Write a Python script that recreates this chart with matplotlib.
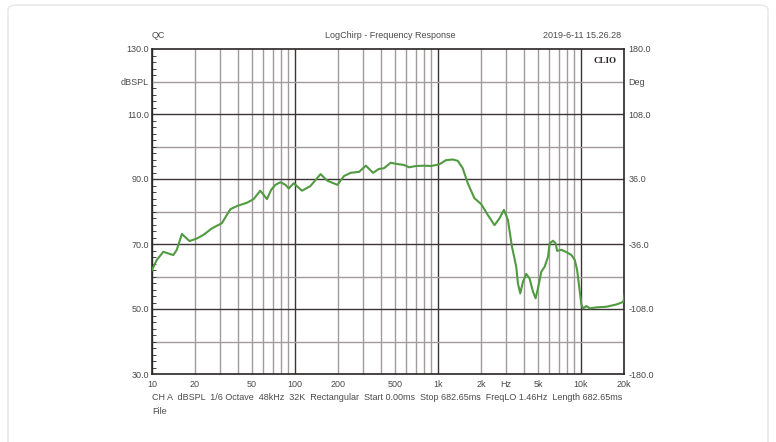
import matplotlib
matplotlib.use('Agg')
import matplotlib.pyplot as plt
from matplotlib.patches import FancyBboxPatch
from matplotlib.ticker import FixedLocator, NullFormatter, NullLocator

# frequency response (Hz, dBSPL)
freq = [10, 10.8, 12.0, 13.0, 14.1, 14.9, 16.2, 17.0, 18.3, 20.6, 22.9, 26.2,
        30.8, 35.3, 39.4, 46.2, 51.3, 57.2, 63.7, 68.0, 72.9, 79.2, 85.8, 90.5,
        98.0, 112, 128, 151, 168, 198, 220, 245, 281, 313, 352, 386, 419, 467,
        521, 580, 629, 701, 801, 893, 1021, 1138, 1268, 1375, 1490, 1616, 1797,
        2004, 2233, 2485, 2694, 2892, 3085, 3291, 3527, 3622, 3762, 3930, 4145,
        4372, 4619, 4818, 5006, 5282, 5572, 5886, 6040, 6380, 6656, 6808, 7299,
        7911, 8577, 9047, 9403, 9714, 10082, 10361, 10928, 11530, 12848, 15099,
        17747, 19770, 20200]
spl = [62.0, 65.1, 67.6, 67.1, 66.6, 68.2, 73.1, 72.2, 70.9, 71.7, 72.8, 74.8,
       76.4, 80.7, 81.7, 82.7, 83.8, 86.4, 83.8, 86.6, 88.2, 89.0, 88.2, 87.1,
       88.7, 86.4, 87.8, 91.5, 89.5, 88.2, 90.9, 91.9, 92.2, 94.1, 91.9, 93.1,
       93.3, 95.0, 94.6, 94.3, 93.6, 94.0, 94.1, 94.0, 94.5, 95.8, 96.0, 95.6,
       93.3, 88.7, 84.1, 82.3, 78.9, 75.8, 77.9, 80.5, 77.4, 69.2, 63.0, 57.9,
       54.8, 58.4, 60.8, 59.4, 55.3, 53.3, 56.4, 61.5, 63.0, 66.1, 70.2, 71.0,
       70.2, 67.9, 68.2, 67.5, 66.6, 65.1, 62.0, 56.9, 51.2, 50.2, 50.9, 50.2,
       50.5, 50.7, 51.4, 52.2, 54.3]

x_ticks = [10, 20, 50, 100, 200, 500, 1000, 2000, 3000, 5000, 10000, 20000]
x_labels = ['10', '20', '50', '100', '200', '500', '1k', '2k', 'Hz', '5k', '10k', '20k']
left_ticks = [130, 120, 110, 90, 70, 50, 30]
left_labels = ['130.0', 'dBSPL', '110.0', '90.0', '70.0', '50.0', '30.0']
right_labels = ['180.0', 'Deg', '108.0', '36.0', '-36.0', '-108.0', '-180.0']
footer = ('CH A  dBSPL  1/6 Octave  48kHz  32K  Rectangular  Start 0.00ms  '
          'Stop 682.65ms  FreqLO 1.46Hz  Length 682.65ms')

plt.rcParams['font.family'] = ['Liberation Sans', 'DejaVu Sans']
txt = '#4a4a4a'
fs = 6.5
W, H = 776, 442
fig = plt.figure(figsize=(W / 100, H / 100), dpi=100)
fig.patch.set_facecolor('white')
fig.patches.append(FancyBboxPatch((8 / W, -0.05), 760 / W, 1.05 - 5 / H,
                                  boxstyle='round,pad=0,rounding_size=0.012',
                                  transform=fig.transFigure, fill=False,
                                  edgecolor='#e6e6e6', linewidth=1))

ax = fig.add_axes([152 / W, 1 - 374 / H, 472 / W, 325 / H])
ax.set_xscale('log')
ax.set_xlim(10, 20000)
ax.set_ylim(30, 130)

# grid
decades = [10, 100, 1000, 10000]
minors = [m * d for d in decades for m in range(2, 10) if m * d < 20000]
for f in minors:
    ax.axvline(f, color='#a39b9b', lw=1.0, zorder=1)
for f in decades:
    ax.axvline(f, color='#3c3434', lw=1.0, zorder=1)
for v in range(40, 130, 10):
    ax.axhline(v, color='#3c3434' if v % 20 == 10 else '#a39b9b', lw=1.0, zorder=1)

ax.plot(freq, spl, color='#529a42', lw=1.5, zorder=3)

for s in ax.spines.values():
    s.set_color('#2a2424')
    s.set_linewidth(1.2)

ax.xaxis.set_major_locator(FixedLocator(x_ticks))
ax.set_xticklabels(x_labels)
ax.xaxis.set_minor_locator(NullLocator())
ax.xaxis.set_minor_formatter(NullFormatter())
ax.tick_params(axis='x', length=0, pad=4, labelsize=fs, labelcolor=txt)

ax.set_yticks(left_ticks)
ax.set_yticklabels(left_labels)
ax.yaxis.set_minor_locator(FixedLocator(range(30, 131, 2)))
ax.tick_params(axis='y', which='major', length=0, pad=2, labelsize=fs, labelcolor=txt)
ax.tick_params(axis='y', which='minor', direction='in', length=3, color='#2a2424',
               left=True, right=True)

ax2 = ax.twinx()
ax2.set_ylim(-180, 180)
ax2.set_yticks([180, 144, 108, 36, -36, -108, -180])
ax2.set_yticklabels(right_labels)
ax2.tick_params(axis='y', length=0, pad=3, labelsize=fs, labelcolor=txt)
for s in ax2.spines.values():
    s.set_visible(False)

ax.text(0.985, 0.975, 'CLIO', transform=ax.transAxes, ha='right', va='top',
        fontsize=fs, fontweight='bold', family='Liberation Serif', color='#2a2424', zorder=4)

fig.text(152 / W, 1 - 35 / H, 'QC', ha='left', va='center', fontsize=fs, color=txt)
fig.text(390 / W, 1 - 35 / H, 'LogChirp - Frequency Response', ha='center', va='center',
         fontsize=fs, color=txt)
fig.text(621 / W, 1 - 35 / H, '2019-6-11 15.26.28', ha='right', va='center',
         fontsize=fs, color=txt)
fig.text(152 / W, 1 - 397 / H, footer, ha='left', va='center', fontsize=fs, color=txt)
fig.text(152 / W, 1 - 411 / H, 'File', ha='left', va='center', fontsize=fs, color=txt)

fig.savefig('out.png', dpi=100)
